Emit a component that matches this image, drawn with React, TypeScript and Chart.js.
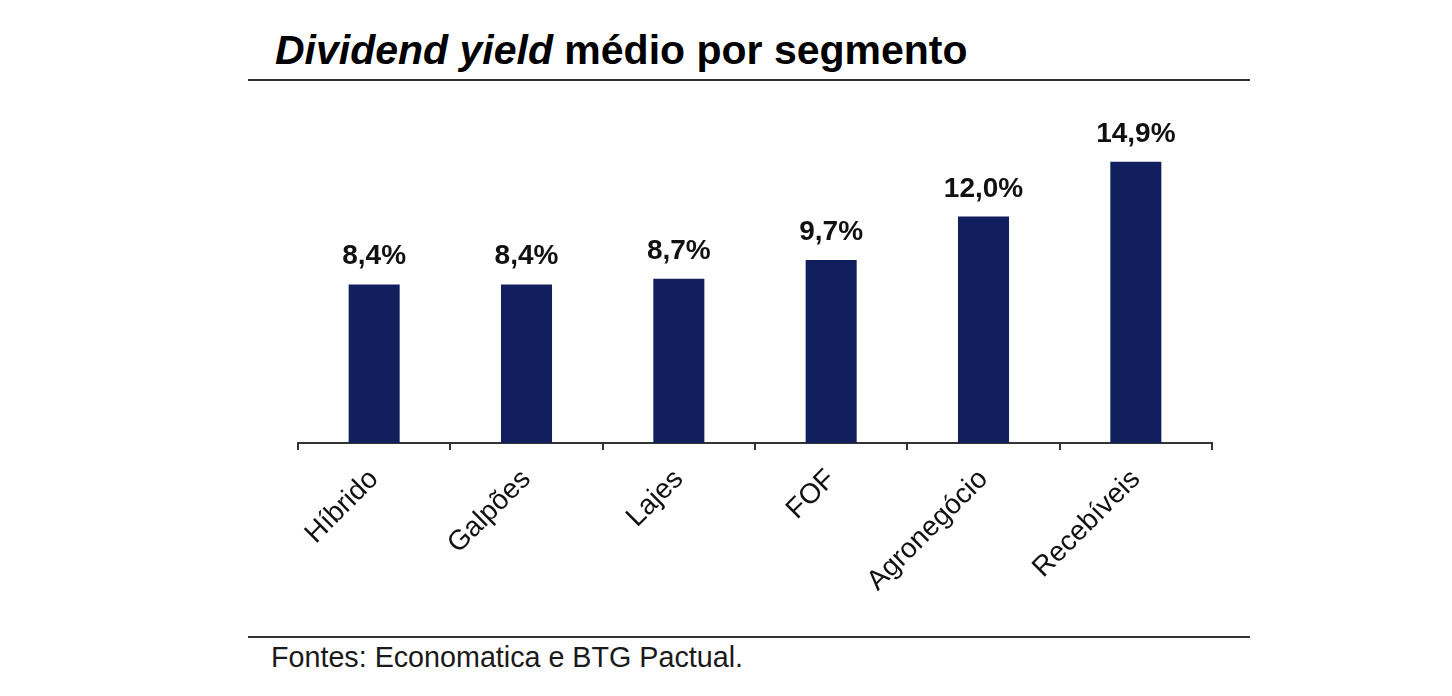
import React, { useRef, useEffect } from 'react';
import { Chart, registerables, Plugin } from 'chart.js';

Chart.register(...registerables);

const segments = ['Híbrido', 'Galpões', 'Lajes', 'FOF', 'Agronegócio', 'Recebíveis'];
const dividendYield = [8.4, 8.4, 8.7, 9.7, 12.0, 14.9];

const FONT = '"Liberation Sans", Arial, Helvetica, sans-serif';
const BAR_COLOR = '#111F5E';

// draws the "8,4%" style values above each bar
const valueLabels: Plugin<'bar'> = {
  id: 'valueLabels',
  afterDatasetsDraw(chart) {
    const ctx = chart.ctx;
    const meta = chart.getDatasetMeta(0);
    ctx.save();
    ctx.font = `bold 28px ${FONT}`;
    ctx.fillStyle = '#111';
    ctx.textAlign = 'center';
    ctx.textBaseline = 'alphabetic';
    meta.data.forEach((bar, i) => {
      const v = dividendYield[i];
      const text = v.toFixed(1).replace('.', ',') + '%';
      ctx.fillText(text, bar.x, bar.y - 20);
    });
    ctx.restore();
  },
};

const App: React.FC = () => {
  const chartRef = useRef<HTMLCanvasElement>(null);
  const chartInstance = useRef<Chart | null>(null);

  useEffect(() => {
    if (!chartRef.current) return;
    if (chartInstance.current) {
      chartInstance.current.destroy();
    }
    const ctx = chartRef.current.getContext('2d');
    if (!ctx) return;

    chartInstance.current = new Chart(ctx, {
      type: 'bar',
      data: {
        labels: segments,
        datasets: [
          {
            data: dividendYield,
            backgroundColor: BAR_COLOR,
            barPercentage: 0.335,
            categoryPercentage: 1,
          },
        ],
      },
      options: {
        animation: false,
        responsive: false,
        layout: { padding: { top: 41, left: 8, right: 8, bottom: 0 } },
        plugins: {
          legend: { display: false },
          tooltip: { enabled: false },
        },
        scales: {
          x: {
            offset: true,
            grid: {
              offset: true,
              drawOnChartArea: false,
              drawTicks: true,
              tickLength: 7,
              color: '#333',
              lineWidth: 2,
            },
            border: { display: true, color: '#333', width: 2 },
            ticks: {
              autoSkip: false,
              minRotation: 45,
              maxRotation: 45,
              padding: 13,
              color: '#111',
              font: { family: FONT, size: 28 },
            },
            afterFit: (scale) => {
              scale.height = 180;
            },
          },
          y: {
            display: false,
            min: 0,
            max: 16,
          },
        },
      },
      plugins: [valueLabels],
    });

    return () => {
      if (chartInstance.current) {
        chartInstance.current.destroy();
        chartInstance.current = null;
      }
    };
  }, []);

  return (
    <div
      style={{
        position: 'absolute',
        left: 0,
        top: 0,
        width: 1452,
        height: 696,
        background: '#fff',
        fontFamily: FONT,
      }}
    >
      <div
        style={{
          position: 'absolute',
          left: 275,
          top: 30,
          fontSize: 41,
          lineHeight: '41px',
          fontWeight: 'bold',
          color: '#000',
          whiteSpace: 'nowrap',
        }}
      >
        <i>Dividend yield</i> médio por segmento
      </div>
      <div style={{ position: 'absolute', left: 248, top: 79, width: 1002, height: 2, background: '#333' }} />
      <canvas
        ref={chartRef}
        width={930}
        height={523}
        style={{ position: 'absolute', left: 290, top: 100, width: 930, height: 523 }}
      />
      <div style={{ position: 'absolute', left: 248, top: 636, width: 1002, height: 2, background: '#333' }} />
      <div
        style={{
          position: 'absolute',
          left: 271,
          top: 643,
          fontSize: 28.7,
          lineHeight: '28px',
          color: '#1a1a1a',
          whiteSpace: 'nowrap',
        }}
      >
        Fontes: Economatica e BTG Pactual.
      </div>
    </div>
  );
};

export default App;
